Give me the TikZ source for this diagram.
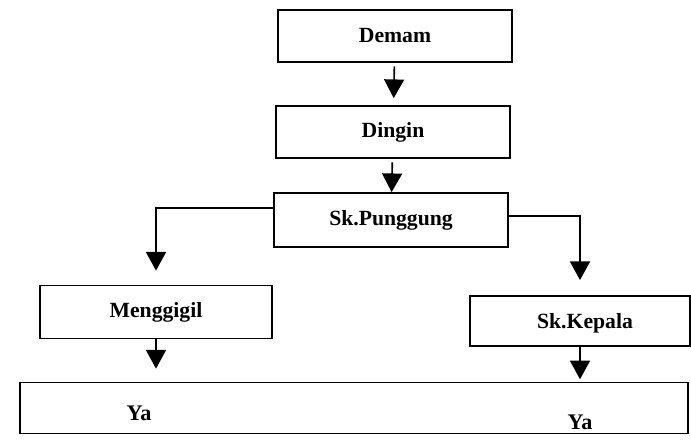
\documentclass[tikz,border=0pt]{standalone}
\usepackage{fontspec}
\setmainfont{Liberation Serif}
\usetikzlibrary{arrows.meta, calc}
\tikzset{
  stepbox/.style={draw, line width=1.5pt, minimum width=7cm, minimum height=1.56cm,
    font=\fontsize{18.5}{20}\selectfont\bfseries, inner sep=0pt},
  flowarrow/.style={-{Triangle[length=0.56cm, width=0.6cm]}, line width=1.4pt},
}

\begin{document}
\begin{tikzpicture}[x=0.03cm, y=-0.03cm]
  \useasboundingbox (0,0) rectangle (691,444);

  % main column
  \node[stepbox] (demam) at (395,36) {Demam};
  \node[stepbox] (dingin) at (393,132) {Dingin};
  \node[stepbox, minimum height=1.62cm] (punggung) at (391,220) {Sk.Punggung};

  % branches
  \node[stepbox, minimum width=6.96cm, minimum height=1.59cm] (menggigil) at (156,312) {Menggigil};
  \node[stepbox, minimum width=6.6cm, minimum height=1.5cm] (kepala) at (580,321) {};
  \node[font=\fontsize{18.5}{20}\selectfont\bfseries] (kepalaT) at (585,323) {Sk.Kepala};

  % result box
  \node[draw, line width=1.5pt, minimum width=20.04cm, minimum height=1.53cm] (ya) at (354,408) {};
  \node[font=\fontsize{19}{20}\selectfont\bfseries] (yaL) at (139,413) {Ya};
  \node[font=\fontsize{19}{20}\selectfont\bfseries] (yaR) at (580,422) {Ya};

  % arrows
  \draw[flowarrow, shorten <=3pt, shorten >=6pt] (demam) -- (dingin);
  \draw[flowarrow, shorten <=3pt] (dingin) -- (punggung);
  \draw[flowarrow, shorten >=0.42cm] ([yshift=0.36cm]punggung.west) -| (menggigil.north);
  \draw[flowarrow, shorten >=0.45cm] ([yshift=0.12cm]punggung.east) -| (kepala.north);
  \draw[flowarrow, shorten >=0.39cm] (menggigil) -- (menggigil |- ya.north);
  \draw[flowarrow, shorten >=2pt] (kepala) -- (kepala |- ya.north);
\end{tikzpicture}
\end{document}
